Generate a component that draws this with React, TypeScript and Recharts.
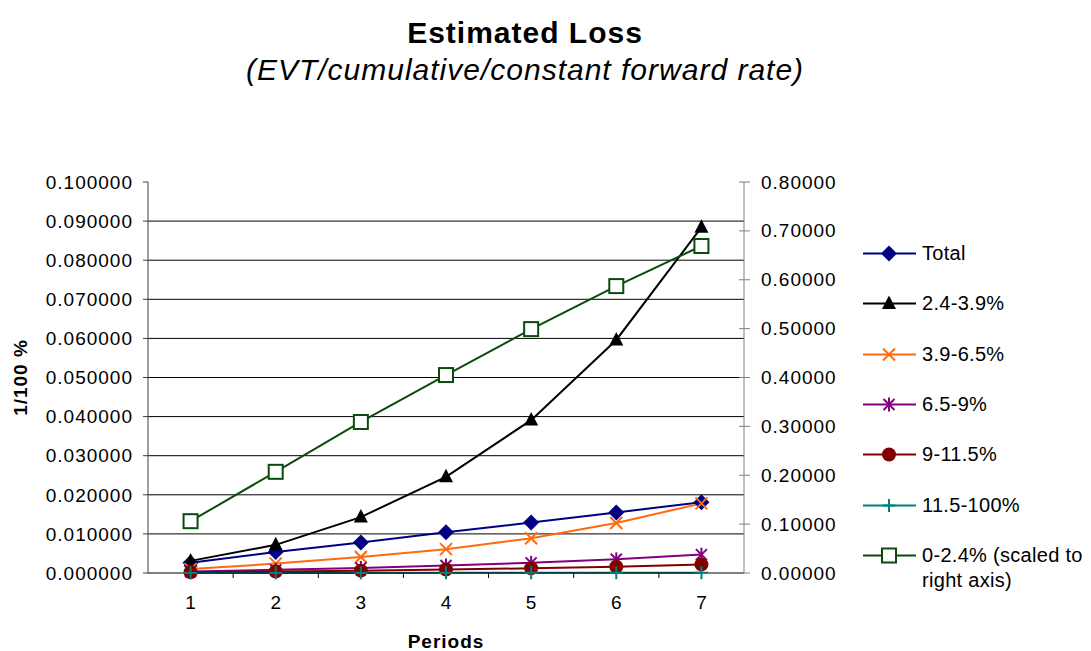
import React from "react";
import {
  LineChart,
  Line,
  XAxis,
  YAxis,
  CartesianGrid,
  Legend,
} from "recharts";

const FONT = "'Liberation Sans', Arial, sans-serif";

// data
const periods = [1, 2, 3, 4, 5, 6, 7];
const total = [0.0026, 0.0054, 0.0078, 0.0104, 0.0129, 0.0155, 0.0181];
const band24to39 = [0.0031, 0.0072, 0.0143, 0.0246, 0.0391, 0.0596, 0.0884];
const band39to65 = [0.001, 0.0024, 0.0041, 0.0061, 0.0089, 0.0128, 0.0178];
const band65to9 = [0.0004, 0.0008, 0.0013, 0.0019, 0.0026, 0.0035, 0.0047];
const band9to115 = [0.0002, 0.0004, 0.0006, 0.0009, 0.0012, 0.0016, 0.0022];
const band115to100 = [0.00001, 0.00002, 0.00003, 0.00004, 0.00005, 0.00006, 0.00008];
const band0to24 = [0.106, 0.207, 0.309, 0.405, 0.499, 0.587, 0.669];

const leftTicks = [0, 0.01, 0.02, 0.03, 0.04, 0.05, 0.06, 0.07, 0.08, 0.09, 0.1];
const rightTicks = [0, 0.1, 0.2, 0.3, 0.4, 0.5, 0.6, 0.7, 0.8];

const series = [
  { key: "total", name: "Total", color: "#000080", marker: "diamond", axis: "left", values: total },
  { key: "b1", name: "2.4-3.9%", color: "#000000", marker: "triangle", axis: "left", values: band24to39 },
  { key: "b2", name: "3.9-6.5%", color: "#FF6A10", marker: "x", axis: "left", values: band39to65 },
  { key: "b3", name: "6.5-9%", color: "#800080", marker: "star", axis: "left", values: band65to9 },
  { key: "b4", name: "9-11.5%", color: "#800000", marker: "circle", axis: "left", values: band9to115 },
  { key: "b5", name: "11.5-100%", color: "#008080", marker: "plus", axis: "left", values: band115to100 },
  { key: "b0", name: "0-2.4% (scaled to right axis)", color: "#0D4A0D", marker: "square", axis: "right", values: band0to24 },
];

const data = periods.map((p, i) => {
  const row: Record<string, number> = { period: p };
  series.forEach((s) => (row[s.key] = s.values[i]));
  return row;
});

const W = 1091;
const H = 651;
const PLOT_L = 148;
const PLOT_R = 744;
const HALF = (PLOT_R - PLOT_L) / periods.length / 2;

function Marker({ kind, cx, cy, color }: { kind: string; cx: number; cy: number; color: string }) {
  if (cx == null || cy == null) return null;
  switch (kind) {
    case "diamond":
      return <polygon points={`${cx},${cy - 8} ${cx + 8},${cy} ${cx},${cy + 8} ${cx - 8},${cy}`} fill={color} />;
    case "triangle":
      return <polygon points={`${cx},${cy - 8} ${cx + 7},${cy + 5.5} ${cx - 7},${cy + 5.5}`} fill={color} />;
    case "x":
      return (
        <g stroke={color} strokeWidth={2}>
          <line x1={cx - 6} y1={cy - 6} x2={cx + 6} y2={cy + 6} />
          <line x1={cx - 6} y1={cy + 6} x2={cx + 6} y2={cy - 6} />
        </g>
      );
    case "star":
      return (
        <g stroke={color} strokeWidth={2}>
          <line x1={cx - 5.5} y1={cy - 5.5} x2={cx + 5.5} y2={cy + 5.5} />
          <line x1={cx - 5.5} y1={cy + 5.5} x2={cx + 5.5} y2={cy - 5.5} />
          <line x1={cx} y1={cy - 7} x2={cx} y2={cy + 7} />
        </g>
      );
    case "circle":
      return <circle cx={cx} cy={cy} r={7} fill={color} />;
    case "plus":
      return (
        <g stroke={color} strokeWidth={2}>
          <line x1={cx - 6.5} y1={cy} x2={cx + 6.5} y2={cy} />
          <line x1={cx} y1={cy - 6.5} x2={cx} y2={cy + 6.5} />
        </g>
      );
    case "square":
      return <rect x={cx - 7} y={cy - 7} width={14} height={14} fill="#fff" stroke={color} strokeWidth={2} />;
    default:
      return null;
  }
}

function XTick(props: any) {
  const { x, y, payload, index } = props;
  return (
    <g>
      <text
        x={x}
        y={y + 29}
        textAnchor="middle"
        dominantBaseline="central"
        fontFamily={FONT}
        fontSize={19}
        fill="#000"
      >
        {payload.value}
      </text>
      {index < periods.length - 1 && (
        <line x1={x + HALF} x2={x + HALF} y1={y} y2={y + 5} stroke="#000" />
      )}
    </g>
  );
}

function RightTick(props: any) {
  const { x, y, payload } = props;
  return (
    <g>
      <line x1={x - 5} x2={x + 6} y1={y} y2={y} stroke="#808080" />
      <text
        x={x + 17}
        y={y}
        textAnchor="start"
        dominantBaseline="central"
        fontFamily={FONT}
        fontSize={19}
        letterSpacing={1}
        fill="#000"
      >
        {Number(payload.value).toFixed(5)}
      </text>
    </g>
  );
}

function LegendBox() {
  return (
    <div style={{ position: "relative", width: 229, height: 340, fontFamily: FONT }}>
      {series.map((s, i) => (
        <div key={s.key} style={{ position: "absolute", left: 0, top: i * 50.4, width: 229 }}>
          <svg width={56} height={25} style={{ position: "absolute", left: 0, top: 0 }}>
            <line x1={1} x2={54} y1={12.5} y2={12.5} stroke={s.color} strokeWidth={2} />
            <Marker kind={s.marker} cx={27} cy={12.5} color={s.color} />
          </svg>
          <div
            style={{
              position: "absolute",
              left: 60,
              top: 0,
              width: 168,
              fontSize: 20,
              letterSpacing: 0.3,
              lineHeight: "25px",
              color: "#000",
            }}
          >
            {s.name}
          </div>
        </div>
      ))}
    </div>
  );
}

export default function App() {
  return (
    <div style={{ position: "absolute", left: 0, top: 0, width: W, height: H, background: "#fff", fontFamily: FONT }}>
      <div
        style={{
          position: "absolute",
          left: 0,
          top: 15,
          width: 1050,
          textAlign: "center",
          fontSize: 30,
          lineHeight: "36px",
          fontWeight: "bold",
          letterSpacing: 1,
        }}
      >
        Estimated Loss
      </div>
      <div
        style={{
          position: "absolute",
          left: 0,
          top: 52,
          width: 1050,
          textAlign: "center",
          fontSize: 30,
          lineHeight: "36px",
          fontStyle: "italic",
          letterSpacing: 1,
        }}
      >
        (EVT/cumulative/constant forward rate)
      </div>
      <LineChart
        width={W}
        height={H}
        data={data}
        margin={{ top: 182, right: W - PLOT_R - 110, bottom: 0, left: 0 }}
      >
        <CartesianGrid
          yAxisId="left"
          vertical={false}
          horizontalValues={leftTicks.slice(1, -1)}
          stroke="#000"
          fill="none"
        />
        <XAxis
          dataKey="period"
          type="category"
          height={78}
          padding={{ left: HALF, right: HALF }}
          stroke="#000"
          tickLine={false}
          tickSize={0}
          tickMargin={0}
          tick={<XTick />}
          interval={0}
          label={{
            value: "Periods",
            position: "insideBottom",
            offset: 3,
            style: { fontFamily: FONT, fontSize: 19, fontWeight: "bold", letterSpacing: 1, fill: "#000" },
          }}
        />
        <YAxis
          yAxisId="left"
          width={PLOT_L}
          domain={[0, 0.1]}
          ticks={leftTicks}
          interval={0}
          stroke="#404040"
          tickSize={5}
          tickMargin={10}
          tickFormatter={(v: number) => v.toFixed(6)}
          tick={{ fill: "#000", fontSize: 19, fontFamily: FONT, letterSpacing: 1 }}
          label={{
            value: "1/100 %",
            angle: -90,
            position: "insideLeft",
            offset: 20,
            style: {
              fontFamily: FONT,
              fontSize: 19,
              fontWeight: "bold",
              letterSpacing: 1,
              fill: "#000",
              textAnchor: "middle",
            },
          }}
        />
        <YAxis
          yAxisId="right"
          orientation="right"
          width={110}
          domain={[0, 0.8]}
          ticks={rightTicks}
          interval={0}
          stroke="#808080"
          tickLine={false}
          tickSize={0}
          tickMargin={0}
          tick={<RightTick />}
        />
        <Legend
          layout="vertical"
          align="center"
          verticalAlign="middle"
          wrapperStyle={{ left: 862, top: 240.8, width: 229, height: 340 }}
          content={() => <LegendBox />}
        />
        {series.map((s) => (
          <Line
            key={s.key}
            yAxisId={s.axis}
            dataKey={s.key}
            name={s.name}
            stroke={s.color}
            strokeWidth={2}
            isAnimationActive={false}
            dot={(p: any) => <Marker key={`${s.key}-${p.index}`} kind={s.marker} cx={p.cx} cy={p.cy} color={s.color} />}
            activeDot={false}
          />
        ))}
      </LineChart>
    </div>
  );
}
